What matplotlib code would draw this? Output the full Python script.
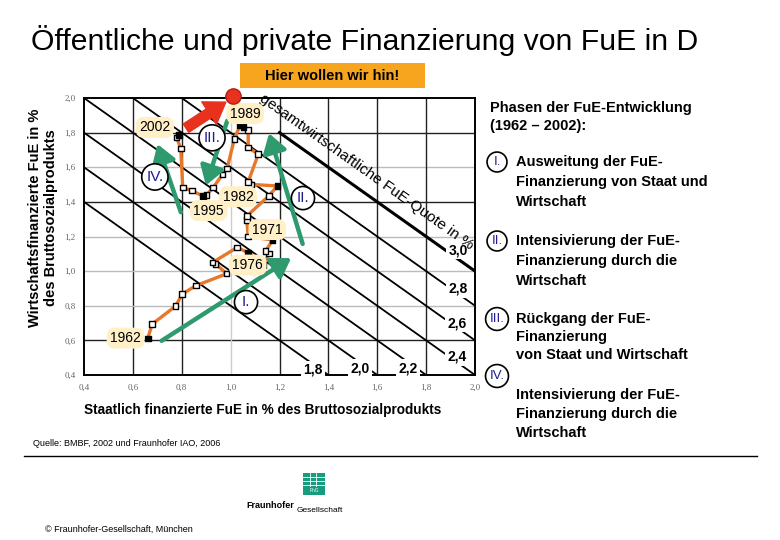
import matplotlib
matplotlib.use('Agg')
import matplotlib.pyplot as plt
from matplotlib.patches import Rectangle, FancyArrowPatch
import numpy as np

# Staatlich (x) vs. Wirtschaft (y) finanzierte FuE in % des BSP, 1962 - 2002
staat = [0.661, 0.679, 0.775, 0.802, 0.858, 0.984, 0.939, 0.925, 1.027, 1.072,
         1.134, 1.158, 1.143, 1.172, 1.072, 1.066, 1.066, 1.156, 1.191, 1.083,
         1.072, 1.113, 1.072, 1.072, 1.052, 1.038, 1.015, 0.986, 0.967, 0.929,
         0.902, 0.886, 0.841, 0.804, 0.796, 0.779, 0.789]
wirtschaft = [0.612, 0.694, 0.798, 0.868, 0.916, 0.985, 1.041, 1.049, 1.137, 1.106,
              1.035, 1.103, 1.116, 1.180, 1.199, 1.295, 1.318, 1.434, 1.492, 1.501,
              1.516, 1.675, 1.715, 1.815, 1.834, 1.840, 1.763, 1.594, 1.559, 1.484,
              1.440, 1.434, 1.465, 1.482, 1.709, 1.771, 1.786]
filled = [0, 9, 13, 18, 24, 25, 31, 36]

quoten = [1.8, 2.0, 2.2, 2.4, 2.6, 2.8, 3.0]
quote_labels = ['1,8', '2,0', '2,2', '2,4', '2,6', '2,8', '3,0']
ticks = [0.4, 0.6, 0.8, 1.0, 1.2, 1.4, 1.6, 1.8, 2.0]
tick_labels = ['0,4', '0,6', '0,8', '1,0', '1,2', '1,4', '1,6', '1,8', '2,0']

jahre = ['2002', '1989', '1982', '1995', '1971', '1976', '1962']
phasen = ['I.', 'II.', 'III.', 'IV.']
phasen_text = ['Ausweitung der FuE-\nFinanzierung von Staat und\nWirtschaft',
               'Intensivierung der FuE-\nFinanzierung durch die\nWirtschaft',
               'Rückgang der FuE-\nFinanzierung\nvon Staat und Wirtschaft',
               'Intensivierung der FuE-\nFinanzierung durch die\nWirtschaft']

W, H = 780, 540
def px(x, y):
    return x / W, 1 - y / H

plt.rcParams['font.family'] = ['Liberation Sans', 'DejaVu Sans']
fig = plt.figure(figsize=(7.8, 5.4), dpi=100)

fig.text(*px(365, 40), 'Öffentliche und private Finanzierung von FuE in D',
         fontsize=21.7, ha='center', va='center')

# orange banner
fig.patches.append(Rectangle(px(240, 88), 185 / W, 25 / H, transform=fig.transFigure,
                             facecolor='#F7A51E', edgecolor='none'))
fig.text(*px(332, 76), 'Hier wollen wir hin!', fontsize=10.5, fontweight='bold',
         ha='center', va='center')

ax = fig.add_axes([84 / W, 1 - 375 / H, (475 - 84) / W, (375 - 98) / H])
ax.set_xlim(0.4, 2.0)
ax.set_ylim(0.4, 2.0)
ax.set_xticks(ticks)
ax.set_yticks(ticks)
ax.set_xticklabels(tick_labels, family='Liberation Serif', fontsize=6.5, color='#666666')
ax.set_yticklabels(tick_labels, family='Liberation Serif', fontsize=6.5, color='#666666')
ax.tick_params(length=0, pad=6)
for s in ax.spines.values():
    s.set_linewidth(1.4)

dark_h = [0.6, 1.4, 1.8]
for t in ticks[1:-1]:
    ax.axhline(t, color='#222222' if t in dark_h else '#bbbbbb', lw=1, zorder=1)
    ax.axvline(t, color='#cccccc' if t == 1.0 else '#222222', lw=1, zorder=1)

# Linien gleicher gesamtwirtschaftlicher FuE-Quote
xx = np.linspace(0.4, 2.0, 50)
for q in quoten:
    if q == 3.0:
        xs = np.linspace(1.2, 2.0, 20)
        ax.plot(xs, q - xs, color='black', lw=2.2, zorder=2)
    else:
        ax.plot(xx, q - xx, color='black', lw=1.3, zorder=2)

label_pos = [(1.337, 0.43), (1.53, 0.44), (1.726, 0.44), (1.926, 0.504),
             (1.926, 0.70), (1.93, 0.90), (1.93, 1.12)]
for (lx, ly), lab in zip(label_pos, quote_labels):
    ax.text(lx, ly, lab, fontsize=10, fontweight='bold', ha='center', va='center', zorder=6,
            bbox=dict(facecolor='white', edgecolor='none', pad=1.5))

ax.text(1.115, 1.985, 'gesamtwirtschaftliche FuE-Quote in %', fontsize=11,
        rotation=-35.3, rotation_mode='anchor', ha='left', va='baseline', zorder=6)

# Pfad 1962 - 2002
ax.plot(staat, wirtschaft, color='#E8772A', lw=2.4, zorder=4)
face = ['black' if i in filled else 'white' for i in range(len(staat))]
ax.scatter(staat, wirtschaft, s=16, marker='s', facecolors=face, edgecolors='black',
           linewidths=1, zorder=5)

# Phasen-Pfeile
arrows = [((0.708, 0.589), (1.257, 1.084)),
          ((1.298, 1.142), (1.154, 1.811)),
          ((0.99, 1.884), (0.895, 1.48)),
          ((0.80, 1.325), (0.697, 1.749))]
for a, b in arrows:
    ax.add_patch(FancyArrowPatch(a, b, arrowstyle='-|>,head_length=7,head_width=4.5',
                                 color='#2E9A6E', lw=3.2, zorder=6, mutation_scale=1.6))
ax.add_patch(FancyArrowPatch((0.808, 1.817), (0.99, 1.985),
                             arrowstyle='simple,head_length=1.2,head_width=1.6,tail_width=0.6',
                             color='#E8321E', mutation_scale=12, zorder=7, clip_on=False))
ax.plot([1.011], [2.01], 'o', ms=11, color='#E8321E', mec='#b02010', zorder=8, clip_on=False)

year_pos = [(0.69, 1.83), (1.06, 1.91), (1.03, 1.43), (0.91, 1.35),
            (1.15, 1.24), (1.07, 1.035), (0.57, 0.613)]
for (yx, yy), j in zip(year_pos, jahre):
    ax.text(yx, yy, j, fontsize=10, ha='center', va='center', zorder=7,
            bbox=dict(boxstyle='round,pad=0.25,rounding_size=0.6', facecolor='#FFF0C8',
                      edgecolor='none'))

circle_pos = [(1.063, 0.821), (1.296, 1.422), (0.924, 1.77), (0.69, 1.544)]
for (cx, cy), p in zip(circle_pos, phasen):
    ax.text(cx, cy, p, fontsize=11, color='#1E1E90', ha='center', va='center', zorder=8,
            bbox=dict(boxstyle='circle,pad=0.3', facecolor='white', edgecolor='black', lw=1.2))

fig.text(*px(43, 218), 'Wirtschaftsfinanzierte FuE in %\ndes Bruttosozialprodukts',
         rotation=90, fontsize=10.5, fontweight='bold', ha='center', va='center',
         linespacing=1.15)
fig.text(*px(263, 410), 'Staatlich finanzierte FuE in % des Bruttosozialprodukts',
         fontsize=9.8, fontweight='bold', ha='center', va='center')

# rechte Spalte
fig.text(*px(490, 117), 'Phasen der FuE-Entwicklung\n(1962 – 2002):', fontsize=10.5,
         fontweight='bold', ha='left', va='center', linespacing=1.45)
item_y = [162, 241, 319, 395]
circ_y = [162, 241, 319, 376]
steps = [20, 20, 18, 19]
for p, txt, ty, cy, st in zip(phasen, phasen_text, item_y, circ_y, steps):
    fig.text(*px(497, cy), p, fontsize=9.5, color='#1E1E90', ha='center', va='center',
             bbox=dict(boxstyle='circle,pad=0.3', facecolor='white', edgecolor='black', lw=1.2))
    for k, line in enumerate(txt.split('\n')):
        fig.text(*px(516, ty + k * st), line, fontsize=10.5, fontweight='bold',
                 ha='left', va='center')

# Fusszeile
fig.text(*px(33, 443), 'Quelle: BMBF, 2002 und Fraunhofer IAO, 2006', fontsize=6.5,
         ha='left', va='center')
fig.add_artist(plt.Line2D([24 / W, 757 / W], [1 - 456 / H, 1 - 456 / H], color='black', lw=1))
fig.patches.append(Rectangle(px(303, 495), 22 / W, 22 / H, transform=fig.transFigure,
                             facecolor='#179C7D', edgecolor='none'))
for gx in [310, 316]:
    fig.add_artist(plt.Line2D([gx / W, gx / W], [1 - 486 / H, 1 - 473 / H], color='white', lw=0.6))
for gy in [477, 481, 485]:
    fig.add_artist(plt.Line2D([303 / W, 325 / W], [1 - gy / H, 1 - gy / H], color='white', lw=0.6))
fig.text(*px(314, 491), 'FhG', fontsize=3.5, color='white', ha='center', va='center')
fig.text(*px(246, 506), 'Fraunhofer', fontsize=6.5, fontweight='bold', ha='left', va='center')
fig.text(*px(297, 510), 'Gesellschaft', fontsize=6, ha='left', va='center')
fig.text(*px(45, 529), '© Fraunhofer-Gesellschaft, München', fontsize=6.5, ha='left', va='center')

fig.savefig('out.png', dpi=100)
